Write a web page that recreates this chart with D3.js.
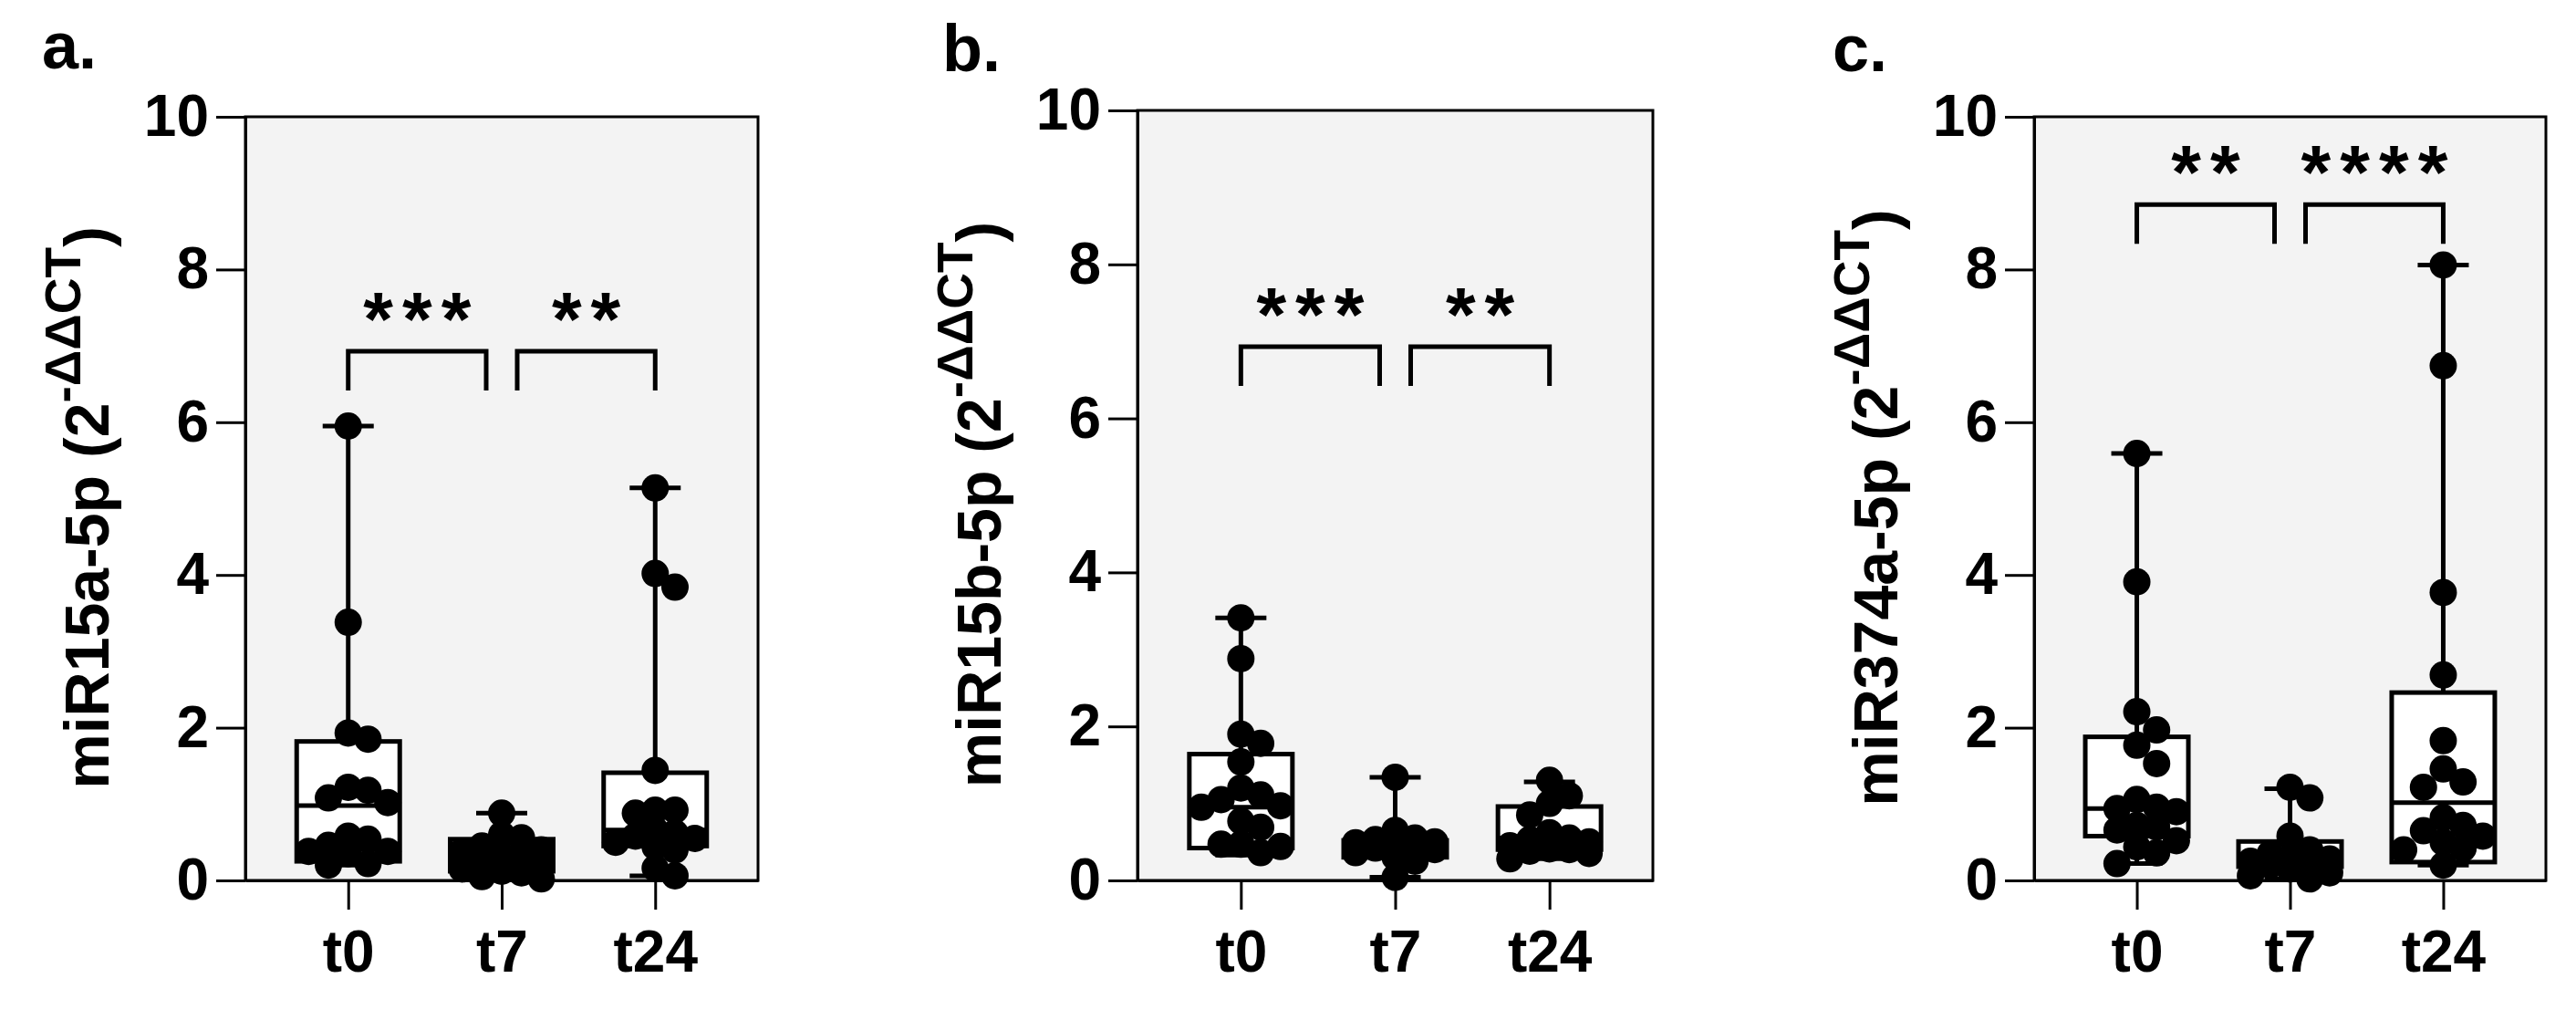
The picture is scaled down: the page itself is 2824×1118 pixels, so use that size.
<!DOCTYPE html>
<html>
<head>
<meta charset="utf-8">
<script src="https://cdn.jsdelivr.net/npm/d3@7"></script>
<style>
  html, body { margin: 0; padding: 0; background: #ffffff; }
  svg { display: block; }
  text { font-family: "Liberation Sans", Arial, sans-serif; font-weight: bold; fill: #000; }
</style>
</head>
<body>
<svg id="chart" width="2824" height="1118"></svg>
<script>
// ---------------- DATA ----------------
const categories = ["t0", "t7", "t24"];
const yTicks = [0, 2, 4, 6, 8, 10];
const panelLetters = ["a.", "b.", "c."];
const yTitles = ["miR15a-5p", "miR15b-5p", "miR374a-5p"];

// panel a : miR15a-5p
const a_t0  = [5.95, 3.38, 1.93, 1.85, 1.22, 1.18, 1.08, 1.02, 0.58, 0.54, 0.46, 0.38, 0.38, 0.35, 0.22, 0.20];
const a_t7  = [0.88, 0.60, 0.56, 0.45, 0.40, 0.38, 0.33, 0.30, 0.25, 0.22, 0.15, 0.12, 0.10, 0.05, 0.02];
const a_t24 = [5.14, 4.02, 3.84, 1.44, 0.92, 0.92, 0.88, 0.66, 0.62, 0.58, 0.55, 0.50, 0.44, 0.40, 0.16, 0.06];
// box stats: [min, q1, median, q3, max]
const a_stats = [[0.20, 0.25, 0.98, 1.82, 5.95], [0.02, 0.12, 0.30, 0.54, 0.88], [0.06, 0.45, 0.66, 1.41, 5.14]];
const a_sig = ["***", "**"];
const a_sigLevel = [6.93, 6.93];

// panel b : miR15b-5p
const b_t0  = [3.41, 2.88, 1.90, 1.78, 1.54, 1.20, 1.11, 1.05, 0.97, 0.95, 0.77, 0.69, 0.47, 0.47, 0.44, 0.36];
const b_t7  = [1.34, 0.65, 0.55, 0.53, 0.50, 0.49, 0.47, 0.45, 0.42, 0.40, 0.36, 0.30, 0.25, 0.04];
const b_t24 = [1.30, 1.10, 1.00, 0.85, 0.62, 0.55, 0.53, 0.50, 0.45, 0.41, 0.40, 0.38, 0.35, 0.28];
const b_stats = [[0.33, 0.42, 0.95, 1.64, 3.41], [0.04, 0.30, 0.45, 0.52, 1.34], [0.28, 0.40, 0.55, 0.96, 1.28]];
const b_sig = ["***", "**"];
const b_sigLevel = [6.93, 6.93];

// panel c : miR374a-5p
const c_t0  = [5.59, 3.91, 2.21, 1.97, 1.77, 1.53, 1.06, 0.96, 0.94, 0.90, 0.72, 0.70, 0.66, 0.52, 0.44, 0.36, 0.22];
const c_t7  = [1.22, 1.08, 0.58, 0.40, 0.35, 0.30, 0.28, 0.25, 0.22, 0.20, 0.15, 0.10, 0.06, 0.02];
const c_t24 = [8.06, 6.74, 3.77, 2.69, 1.83, 1.46, 1.29, 1.22, 0.82, 0.72, 0.65, 0.58, 0.50, 0.42, 0.40, 0.20];
const c_stats = [[0.22, 0.58, 0.94, 1.88, 5.59], [0.02, 0.18, 0.28, 0.51, 1.20], [0.20, 0.24, 1.02, 2.46, 8.06]];
const c_sig = ["**", "****"];
const c_sigLevel = [8.85, 8.85];

// ---------------- LAYOUT / STYLE ----------------
const panels = [
  { letter: panelLetters[0], title: yTitles[0], groups: [a_t0, a_t7, a_t24], stats: a_stats, sig: a_sig, sigLevel: a_sigLevel,
    left: 269, right: 831, top: 128, bottom: 965, labelX: 46, labelY: 75 },
  { letter: panelLetters[1], title: yTitles[1], groups: [b_t0, b_t7, b_t24], stats: b_stats, sig: b_sig, sigLevel: b_sigLevel,
    left: 1247, right: 1812, top: 121, bottom: 965, labelX: 1033, labelY: 78 },
  { letter: panelLetters[2], title: yTitles[2], groups: [c_t0, c_t7, c_t24], stats: c_stats, sig: c_sig, sigLevel: c_sigLevel,
    left: 2230, right: 2791, top: 128, bottom: 965, labelX: 2009, labelY: 78 }
];

const R = 15;            // dot radius
const COL = 21.7;        // swarm column spacing
const BOX_HALF = 56.5;
const CAP_HALF = 28;
const LW = 5;
const AXIS_LW = 3;
const TICK_FS = 64;
const TITLE_FS = 68;
const SUP_FS = 55;

const svg = d3.select("#chart");
svg.append("rect").attr("width", 2824).attr("height", 1118).attr("fill", "#fff");

function swarm(vals, y) {
  const pts = vals.map(v => ({ v, yy: y(v) })).sort((a, b) => a.yy - b.yy);
  const placed = [];
  const minD = COL - 0.5;
  const order = [0, 1, -1, 2, -2];
  pts.forEach(p => {
    let chosen = null, best = -1, bestDx = 0;
    for (const k of order) {
      const dx = k * COL;
      const dmin = placed.length ? d3.min(placed, q => Math.hypot(q.dx - dx, q.yy - p.yy)) : Infinity;
      if (dmin >= minD) { chosen = dx; break; }
      if (dmin > best) { best = dmin; bestDx = dx; }
    }
    p.dx = chosen === null ? bestDx : chosen;
    placed.push(p);
  });
  return pts;
}

panels.forEach(P => {
  const g = svg.append("g");
  const x = d3.scalePoint().domain(categories).range([P.left, P.right]).padding(0.67);
  const y = d3.scaleLinear().domain([0, 10]).range([P.bottom, P.top]);

  // plot background
  g.append("rect").attr("x", P.left).attr("y", P.top)
    .attr("width", P.right - P.left).attr("height", P.bottom - P.top)
    .attr("fill", "#f3f3f3").attr("stroke", "#000").attr("stroke-width", AXIS_LW);

  // y axis
  const ya = g.append("g").attr("transform", `translate(${P.left},0)`)
    .call(d3.axisLeft(y).tickValues(yTicks).tickFormat(d3.format("d")).tickSize(32).tickSizeOuter(0).tickPadding(8));
  ya.select(".domain").attr("stroke-width", AXIS_LW);
  ya.selectAll(".tick line").attr("stroke-width", AXIS_LW);
  ya.selectAll(".tick text").attr("font-size", TICK_FS).attr("font-family", "Liberation Sans, Arial, sans-serif").attr("font-weight", "bold");

  // x axis
  const xa = g.append("g").attr("transform", `translate(0,${P.bottom})`)
    .call(d3.axisBottom(x).tickSize(32).tickSizeOuter(0).tickPadding(23));
  xa.select(".domain").attr("stroke-width", AXIS_LW);
  xa.selectAll(".tick line").attr("stroke-width", AXIS_LW);
  xa.selectAll(".tick text").attr("font-size", TICK_FS).attr("font-family", "Liberation Sans, Arial, sans-serif").attr("font-weight", "bold");

  // y title
  const cy = (P.top + P.bottom) / 2 + 10;
  const t = g.append("text")
    .attr("transform", `translate(${P.left - 150},${cy}) rotate(-90)`)
    .attr("text-anchor", "middle")
    .attr("font-size", TITLE_FS);
  t.append("tspan").text(P.title + " (2");
  t.append("tspan").attr("font-size", SUP_FS).attr("dy", -31).text("-ΔΔCT");
  t.append("tspan").attr("font-size", TITLE_FS).attr("dy", 31).text(")");

  // panel letter
  g.append("text").attr("x", P.labelX).attr("y", P.labelY).attr("font-size", 72).text(P.letter);

  // boxes
  categories.forEach((c, i) => {
    const [mn, q1, md, q3, mx] = P.stats[i];
    const cx = x(c);
    g.append("line").attr("x1", cx).attr("x2", cx).attr("y1", y(mn)).attr("y2", y(mx))
      .attr("stroke", "#000").attr("stroke-width", LW);
    [mn, mx].forEach(v => g.append("line").attr("x1", cx - CAP_HALF).attr("x2", cx + CAP_HALF)
      .attr("y1", y(v)).attr("y2", y(v)).attr("stroke", "#000").attr("stroke-width", LW));
    g.append("rect").attr("x", cx - BOX_HALF).attr("y", y(q3))
      .attr("width", 2 * BOX_HALF).attr("height", y(q1) - y(q3))
      .attr("fill", "#fff").attr("stroke", "#000").attr("stroke-width", LW);
    g.append("line").attr("x1", cx - BOX_HALF).attr("x2", cx + BOX_HALF)
      .attr("y1", y(md)).attr("y2", y(md)).attr("stroke", "#000").attr("stroke-width", LW);
  });

  // dots
  categories.forEach((c, i) => {
    const pts = swarm(P.groups[i], y);
    g.selectAll(null).data(pts).enter().append("circle")
      .attr("cx", d => x(c) + d.dx).attr("cy", d => d.yy).attr("r", R).attr("fill", "#000");
  });

  // significance brackets
  const pairs = [[0, 1], [1, 2]];
  pairs.forEach((pr, k) => {
    const x1 = x(categories[pr[0]]) + (k === 1 ? 17 : 0);
    const x2 = x(categories[pr[1]]) - (k === 0 ? 17 : 0);
    const yl = y(P.sigLevel[k]);
    g.append("path").attr("d", `M${x1},${yl + 43}V${yl}H${x2}V${yl + 43}`)
      .attr("fill", "none").attr("stroke", "#000").attr("stroke-width", LW);
    g.append("text").attr("x", (x1 + x2) / 2 + 5).attr("y", yl - 6)
      .attr("text-anchor", "middle").attr("font-size", 84).attr("letter-spacing", 10)
      .text(P.sig[k]);
  });
});
</script>
</body>
</html>
